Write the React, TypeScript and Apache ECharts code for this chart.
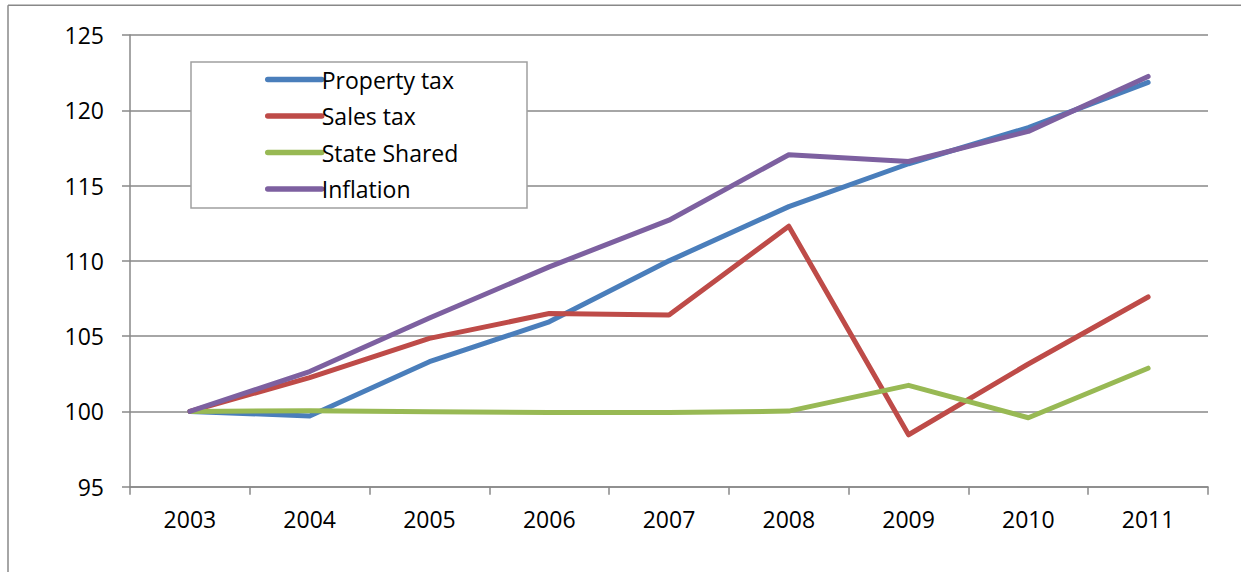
import React, { useEffect, useRef } from "react";
import * as echarts from "echarts";

const years = ["2003", "2004", "2005", "2006", "2007", "2008", "2009", "2010", "2011"];
const propertyTax = [100, 99.7, 103.3, 105.95, 110.0, 113.6, 116.45, 118.85, 121.85];
const salesTax = [100, 102.25, 104.85, 106.5, 106.4, 112.3, 98.45, 103.15, 107.6];
const stateShared = [100, 100.05, 99.97, 99.92, 99.93, 100.02, 101.73, 99.58, 102.87];
const inflation = [100, 102.65, 106.2, 109.6, 112.7, 117.05, 116.6, 118.6, 122.25];

const seriesNames = ["Property tax", "Sales tax", "State Shared", "Inflation"];
const seriesData = [propertyTax, salesTax, stateShared, inflation];
const colors = ["#4a7ebb", "#be4b48", "#98b954", "#7d60a0"];

const FONT = "'Open Sans', 'Noto Sans', sans-serif";

export default function App() {
  const ref = useRef<HTMLDivElement>(null);
  useEffect(() => {
    if (!ref.current) return;
    const chart = echarts.init(ref.current, null, { renderer: "svg" });
    const axisGray = "#888888";
    chart.setOption({
      animation: false,
      backgroundColor: "#ffffff",
      textStyle: { fontFamily: FONT },
      grid: { left: 130, right: 33, top: 35, bottom: 85.3, containLabel: false },
      xAxis: {
        type: "category",
        data: years,
        boundaryGap: true,
        axisLine: { show: true, lineStyle: { color: axisGray, width: 1.5 } },
        axisTick: { show: true, length: 8, inside: false, lineStyle: { color: axisGray, width: 1.5 } },
        axisLabel: { color: "#000", fontSize: 23, fontFamily: FONT, margin: 21 },
        splitLine: { show: false },
      },
      yAxis: {
        type: "value",
        min: 95,
        max: 125,
        interval: 5,
        axisLine: { show: true, lineStyle: { color: axisGray, width: 1.5 } },
        axisTick: { show: true, length: 8, inside: false, lineStyle: { color: axisGray, width: 1.5 } },
        axisLabel: { color: "#000", fontSize: 23, fontFamily: FONT, margin: 26 },
        splitLine: { show: true, lineStyle: { color: axisGray, width: 1.5 } },
      },
      legend: {
        orient: "vertical",
        left: 258,
        top: 61,
        padding: [7, 0, 0, 7],
        itemGap: 13.5,
        itemWidth: 54,
        itemHeight: 14,
        data: seriesNames,
        textStyle: { color: "#000", fontSize: 23, fontFamily: FONT, lineHeight: 23, padding: [0, 0, 0, -5] },
        lineStyle: { width: 5.5, cap: "round" },
        itemStyle: { opacity: 0 },
        z: 10,
      },
      graphic: [
        {
          type: "rect",
          z: 5,
          shape: { x: 191, y: 62, width: 336, height: 146 },
          style: { fill: "#ffffff", stroke: "#a0a0a0", lineWidth: 1.5 },
        },
        {
          type: "line",
          z: 5,
          shape: { x1: 8, y1: 5.3, x2: 1241, y2: 5.3 },
          style: { stroke: "#888888", lineWidth: 1.5 },
        },
        {
          type: "line",
          z: 5,
          shape: { x1: 8, y1: 5.3, x2: 8, y2: 572 },
          style: { stroke: "#888888", lineWidth: 1.5 },
        },
      ],
      series: seriesNames.map((name, i) => ({
        name,
        type: "line",
        data: seriesData[i],
        symbol: "none",
        showSymbol: false,
        color: colors[i],
        lineStyle: { color: colors[i], width: 5, cap: "round", join: "round" },
        z: 2,
      })),
    });
    return () => chart.dispose();
  }, []);
  return (
    <div
      ref={ref}
      style={{ position: "fixed", left: 0, top: 0, width: 1241, height: 572 }}
    />
  );
}
